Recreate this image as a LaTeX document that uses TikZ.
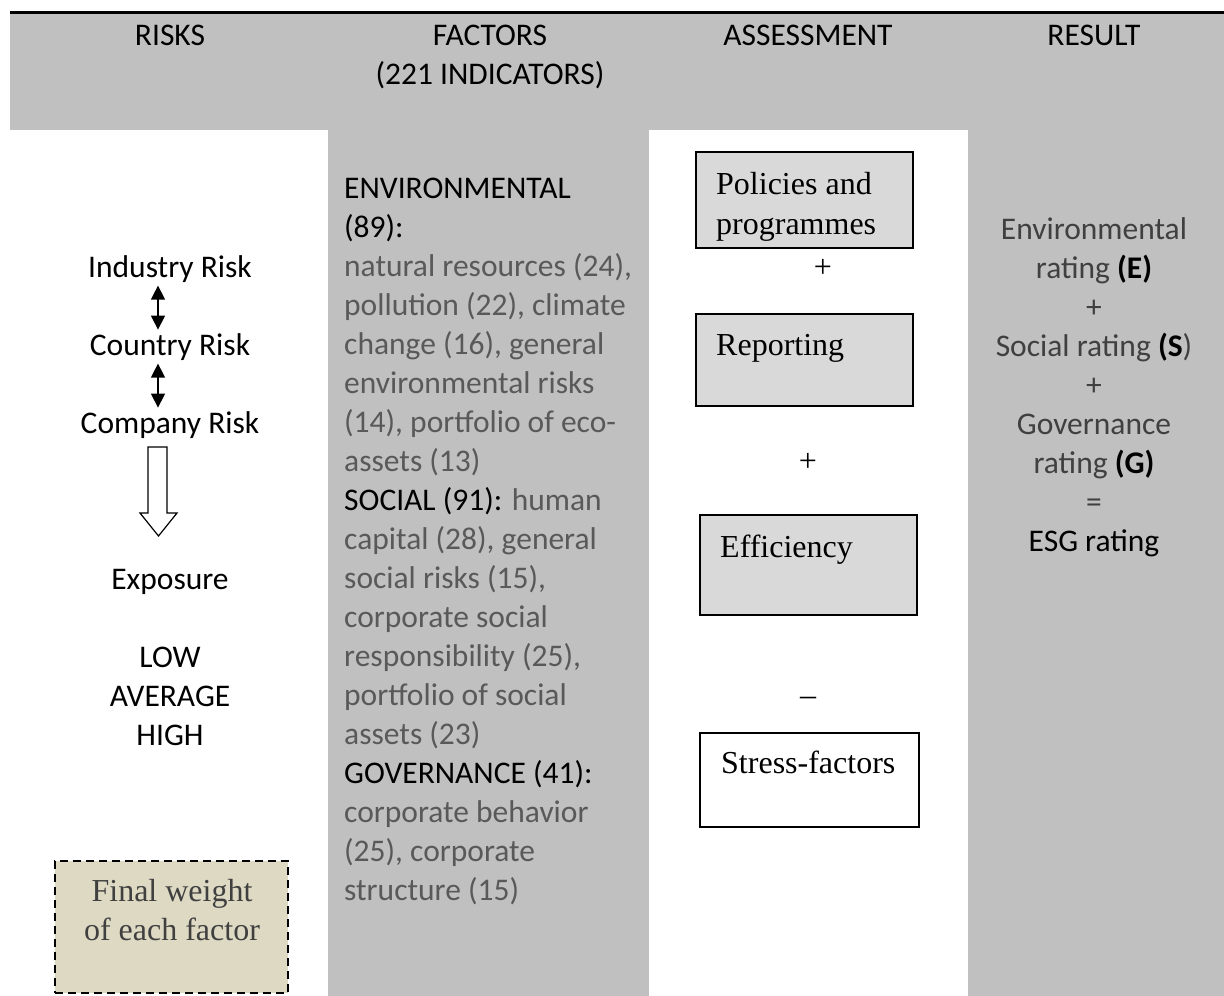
\documentclass[tikz,border=0pt]{standalone}
\usepackage{fontspec}
\setmainfont{Carlito}
\newfontfamily\tnr{Liberation Serif}
\usetikzlibrary{arrows.meta}
\definecolor{bggray}{HTML}{C0C0C0}
\definecolor{boxgray}{HTML}{D9D9D9}
\definecolor{beige}{HTML}{DDD9C3}
\definecolor{txtgray}{HTML}{595959}
\definecolor{resgray}{HTML}{404040}
\newcommand{\hd}{\color{black}}
\tikzset{
  cal/.style={font=\fontsize{31.5}{39}\selectfont, anchor=base},
  rom/.style={font=\tnr\fontsize{32}{40}\selectfont, anchor=base, inner sep=0pt},
  fact/.style={cal, anchor=base west, text=txtgray, inner sep=0pt},
  res/.style={cal, text=resgray},
  abox/.style={draw=black, line width=1.6pt, fill=boxgray, minimum width=217pt, minimum height=#1, inner sep=0pt},
  wbox/.style={draw=black, line width=2pt, dash pattern=on 8pt off 5pt, fill=beige, minimum width=233pt, minimum height=132pt, inner sep=0pt},
  dbl/.style={{Triangle[width=14pt,length=14pt]}-{Triangle[width=14pt,length=14pt]}, line width=1.4pt}
}
\begin{document}
\begin{tikzpicture}[x=1pt,y=-1pt]
\useasboundingbox (0,0) rectangle (1224,996);
%\draw[step=50,gray,very thin] (0,0) grid (1224,996);
\fill[bggray] (10,12) rectangle (1224,996);
\fill[white] (0,130) rectangle (328,996);
\fill[white] (649,130) rectangle (968,996);
\draw[line width=3pt] (10,12) -- (1224,12);
% headings
\node[cal] (hrisk) at (170,45) {RISKS};
\node[cal] (hfact) at (490,45) {FACTORS};
\node[cal] (hind) at (490,84) {(221 INDICATORS)};
\node[cal] (hass) at (808,45) {ASSESSMENT};
\node[cal] (hres) at (1094,45) {RESULT};
% risks
\node[cal] (ind) at (170,277) {Industry Risk};
\node[cal] (cou) at (170,355) {Country Risk};
\node[cal] (com) at (170,433) {Company Risk};
\node[cal] (exp) at (170,589) {Exposure};
\node[cal] (low) at (170,667) {LOW};
\node[cal] (avg) at (170,706) {AVERAGE};
\node[cal] (high) at (170,745) {HIGH};
\draw[dbl] ([xshift=-12pt]ind.south) -- ([xshift=-12pt]cou.north);
\draw[dbl] ([xshift=-12pt]cou.south) -- ([xshift=-12pt]com.north);
\draw[line width=1.2pt,fill=white] (148,447) -- (167,447) -- (167,513) -- (177,513)
  -- (158.5,536) -- (140,513) -- (148,513) -- cycle;
\node[wbox] (wgt) at (171.5,927) {};
\node[rom,text=resgray] (wgt1) at (172,901) {Final weight};
\node[rom,text=resgray] (wgt2) at (172,940) {of each factor};
% factors
\foreach \t [count=\i from 0] in {\hd ENVIRONMENTAL, \hd (89):, {natural resources (24),},
  {pollution (22), climate}, {change (16), general}, environmental risks,
  {(14), portfolio of eco-}, assets (13), {{\hd SOCIAL (91):} human},
  {capital (28), general}, {social risks (15),}, corporate social,
  {responsibility (25),}, portfolio of social, assets (23), \hd GOVERNANCE (41):,
  corporate behavior, {(25), corporate}, structure (15)}
  \node[fact] (f\i) at (344,{198+39*\i}) {\t};
% assessment
\node[abox=96pt] (pol) at (804.5,200) {};
\node[rom,anchor=base west] (pol1) at (716,194) {Policies and};
\node[rom,anchor=base west] (pol2) at (716,234) {programmes};
\node[rom] (p1) at (823,277) {+};
\node[abox=92pt] (rep) at (804.5,360) {};
\node[rom,anchor=base west] (rep1) at (716,355) {Reporting};
\node[rom] (p2) at (808,471) {+};
\node[abox=100pt] (eff) at (808.5,565) {};
\node[rom,anchor=base west] (eff1) at (720,557) {Efficiency};
\node[rom] (m1) at (808,705) {\textendash};
\node[abox=94pt,minimum width=219pt,fill=white] (str) at (809.5,780) {};
\node[rom,anchor=base west] (str1) at (721,773) {Stress-factors};
% result
\foreach \t [count=\i from 0] in {Environmental, {rating {\hd\textbf{(E)}}}, +,
  {Social rating {\hd\textbf{(S}})}, +, Governance, {rating {\hd\textbf{(G)}}}, =,
  \hd ESG rating}
  \node[res] (r\i) at (1094,{239+39*\i}) {\t};
\end{tikzpicture}
\end{document}
